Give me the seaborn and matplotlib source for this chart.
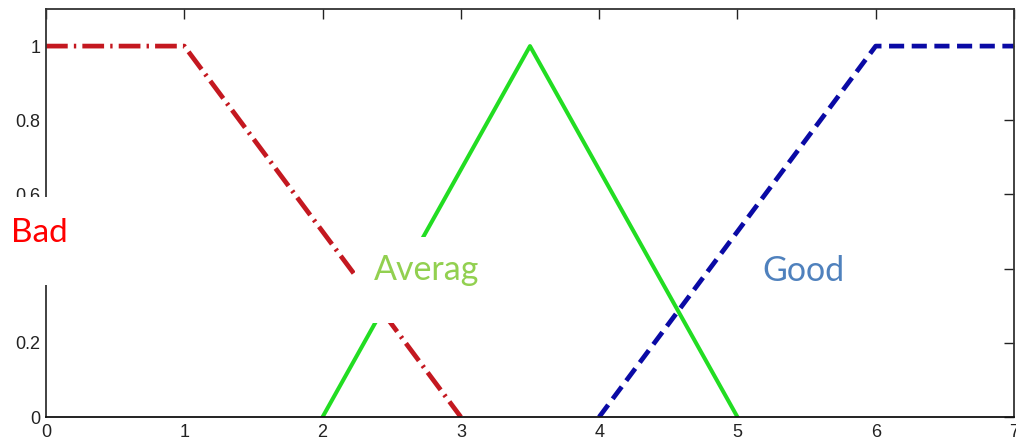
"""
Fuzzy membership functions: Bad / Average / Good.
"""

import pandas as pd
import numpy as np
import matplotlib
matplotlib.use('Agg')
import matplotlib.pyplot as plt
import seaborn as sns
from matplotlib.patches import Rectangle

# membership function breakpoints
bad_x = [0, 1, 3]
bad_y = [1, 1, 0]
avg_x = [2, 3.5, 5]
avg_y = [0, 1, 0]
good_x = [4, 6, 7]
good_y = [0, 1, 1]

x_ticks = [0, 1, 2, 3, 4, 5, 6, 7]
y_ticks = [0, 0.2, 0.4, 0.6, 0.8, 1]
y_tick_labels = ['0', '0.2', '0.4', '0.6', '0.8', '1']

sns.set_style('white')
plt.rcParams['font.family'] = ['Liberation Sans Narrow', 'Liberation Sans', 'DejaVu Sans']

fig = plt.figure(figsize=(10.16, 4.43), dpi=100)
W, H = 1016, 443
ax = fig.add_axes([46 / W, 26 / H, (1014 - 46) / W, (417 - 9) / H])

df_bad = pd.DataFrame({'x': bad_x, 'y': bad_y})
df_avg = pd.DataFrame({'x': avg_x, 'y': avg_y})
df_good = pd.DataFrame({'x': good_x, 'y': good_y})

sns.lineplot(data=df_avg, x='x', y='y', ax=ax, color='#22dd22', lw=2.9,
             sort=False, estimator=None)
sns.lineplot(data=df_bad, x='x', y='y', ax=ax, color='#c41820', lw=3.4,
             sort=False, estimator=None, dashes=False)
ax.lines[-1].set_dashes((4.6, 1.3, 0.5, 1.3))
sns.lineplot(data=df_good, x='x', y='y', ax=ax, color='#0a0aa5', lw=3.4,
             sort=False, estimator=None)
ax.lines[-1].set_dashes((3.2, 1.6))
ax.lines[-1].set_solid_capstyle('butt')

ax.set_xlim(0, 7)
ax.set_ylim(0, 1.1)
ax.set_xticks(x_ticks)
ax.set_yticks(y_ticks)
ax.set_yticklabels(y_tick_labels)
ax.set_xlabel('')
ax.set_ylabel('')
ax.tick_params(direction='in', length=7, width=1, top=True, right=True,
               labelsize=13, colors='#222222')
ax.tick_params(axis='x', pad=5)
ax.tick_params(axis='y', pad=4)
for s in ax.spines.values():
    s.set_visible(True)
    s.set_color('#333333')
    s.set_linewidth(1.3)
ax.spines['bottom'].set_color('#111111')

# white label boxes pasted on top of the plot
for (x0, y0, x1, y1) in [(0, 197, 200, 285), (355, 237, 490, 323)]:
    fig.patches.append(Rectangle((x0 / W, 1 - y1 / H), (x1 - x0) / W, (y1 - y0) / H,
                                 transform=fig.transFigure, facecolor='white',
                                 edgecolor='none', zorder=5))

lab_font = ['Lato', 'Open Sans', 'DejaVu Sans']
fig.text(11 / W, 1 - 233 / H, 'Bad', color='#ff0000', fontsize=24,
         family=lab_font, va='center', ha='left', zorder=6)
fig.text(374 / W, 1 - 270 / H, 'Averag', color='#92d050', fontsize=24.5,
         family=lab_font, va='center', ha='left', zorder=6)
fig.text(762 / W, 1 - 271 / H, 'Good', color='#4f81bd', fontsize=24.5,
         family=lab_font, va='center', ha='left', zorder=6)

fig.savefig('out.png', dpi=100)
